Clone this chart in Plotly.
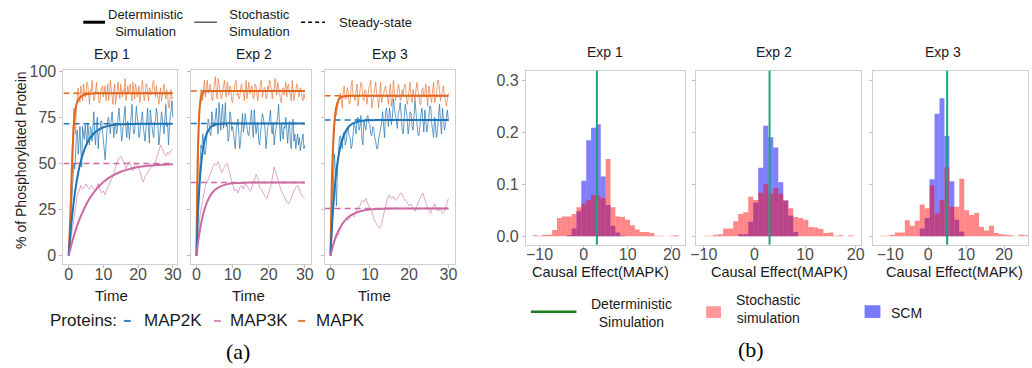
import plotly.graph_objects as go
import numpy as np

W, H = 1032, 368

# ---------------- (a) time courses ----------------
proteins = ["MAP2K", "MAP3K", "MAPK"]
exps = ["Exp 1", "Exp 2", "Exp 3"]

t_det = [0, 0.5, 1, 1.5, 2, 2.5, 3, 4, 5, 6, 8, 10, 12, 15, 18, 20, 25, 30]
det = {
    ("Exp 1", "MAPK"):  [0, 23, 50, 71, 80, 83.5, 85.2, 86.8, 87.5, 87.8, 88, 88, 88, 88, 88, 88, 88, 88],
    ("Exp 1", "MAP2K"): [0, 11.8, 21.6, 29.8, 36.7, 42.4, 47.2, 54.6, 59.7, 63.3, 67.5, 69.6, 70.6, 71.2, 71.4, 71.5, 71.5, 71.5],
    ("Exp 1", "MAP3K"): [0, 3.8, 7.4, 10.7, 13.7, 16.5, 19.1, 23.6, 27.5, 30.9, 36.1, 39.9, 42.7, 45.5, 47.2, 48.0, 49.1, 49.6],
    ("Exp 2", "MAPK"):  [0, 63.7, 82, 87.2, 88.7, 89.1, 89.2, 89.3, 89.3, 89.3, 89.3, 89.3, 89.3, 89.3, 89.3, 89.3, 89.3, 89.3],
    ("Exp 2", "MAP2K"): [0, 26, 42.5, 53.1, 59.9, 64.2, 66.9, 69.8, 70.9, 71.4, 71.7, 71.7, 71.7, 71.7, 71.7, 71.7, 71.7, 71.7],
    ("Exp 2", "MAP3K"): [0, 8.0, 14.3, 19.4, 23.5, 26.7, 29.3, 33.1, 35.4, 36.9, 38.5, 39.2, 39.4, 39.6, 39.6, 39.6, 39.6, 39.6],
    ("Exp 3", "MAPK"):  [0, 51.4, 72.4, 80.9, 84.3, 85.7, 86.3, 86.6, 86.7, 86.7, 86.7, 86.7, 86.7, 86.7, 86.7, 86.7, 86.7, 86.7],
    ("Exp 3", "MAP2K"): [0, 20.4, 35.1, 45.8, 53.5, 59.0, 63.0, 68.0, 70.7, 72.0, 73.1, 73.4, 73.5, 73.5, 73.5, 73.5, 73.5, 73.5],
    ("Exp 3", "MAP3K"): [0, 4.3, 7.9, 10.9, 13.4, 15.4, 17.2, 19.8, 21.6, 22.8, 24.3, 25.0, 25.3, 25.5, 25.6, 25.6, 25.6, 25.6],
}
steady = {
    "Exp 1": {"MAPK": 88.0, "MAP2K": 71.5, "MAP3K": 50.0},
    "Exp 2": {"MAPK": 89.3, "MAP2K": 71.7, "MAP3K": 39.6},
    "Exp 3": {"MAPK": 86.7, "MAP2K": 73.5, "MAP3K": 25.6},
}

# fast-fluctuating species sampled every 0.25 time units
t_fast = [i * 0.25 for i in range(121)]
# slowly fluctuating MAP3K sampled every 0.5 time units
t_slow = [i * 0.5 for i in range(61)]

sto = {
    ("Exp 1", "MAPK"): [0, 10, 25, 45, 60, 72, 80, 70, 66, 82,
                        88, 91, 85, 83, 92, 87, 84, 93, 90, 86,
                        87, 94, 93, 85, 82, 90, 89, 95, 91, 84,
                        85, 92, 94, 88, 88, 83, 83, 90, 90, 92,
                        86, 89, 92, 84, 89, 93, 84, 87, 95, 90,
                        87, 82, 90, 93, 82, 87, 91, 94, 88, 85,
                        93, 89, 86, 90, 89, 96, 84, 87, 92, 88,
                        90, 93, 87, 84, 94, 89, 85, 93, 91, 86,
                        88, 92, 83, 87, 92, 95, 89, 84, 86, 93,
                        93, 86, 84, 91, 90, 87, 88, 94, 95, 89,
                        86, 92, 89, 85, 82, 88, 91, 84, 87, 92,
                        93, 88, 85, 90, 88, 81, 80, 87, 90, 85, 86],
    ("Exp 1", "MAP2K"): [0, 6, 15, 25, 35, 44, 50, 47, 58, 66,
                         68, 55, 62, 70, 57, 48, 70, 65, 63, 71,
                         66, 60, 72, 64, 60, 70, 68, 62, 74, 78,
                         65, 60, 71, 75, 58, 66, 67, 73, 73, 68,
                         62, 55, 52, 60, 69, 74, 75, 70, 66, 73,
                         78, 72, 64, 70, 72, 66, 68, 76, 80, 73,
                         70, 62, 65, 72, 76, 81, 69, 64, 73, 70,
                         63, 68, 77, 82, 71, 66, 67, 72, 81, 75,
                         72, 64, 66, 71, 74, 78, 70, 63, 62, 68,
                         75, 80, 68, 61, 79, 74, 71, 66, 64, 72,
                         73, 80, 77, 70, 60, 65, 70, 78, 74, 68,
                         66, 75, 82, 70, 72, 60, 69, 76, 78, 84, 75],
    ("Exp 1", "MAP3K"): [0, 8, 14, 20, 27, 33, 35, 38, 36, 37,
                         39, 37, 36, 38, 37, 35, 37, 39, 36, 34,
                         35, 33, 36, 38, 40, 42, 44, 48, 51, 53,
                         54, 52, 50, 47, 49, 51, 48, 46, 49, 50,
                         48, 46, 42, 40, 43, 44, 46, 47, 49, 48,
                         51, 54, 57, 60, 58, 55, 54, 56, 55, 57, 58],
    ("Exp 2", "MAPK"): [0, 30, 60, 78, 85, 90, 88, 84, 92, 95,
                        86, 90, 95, 88, 89, 93, 91, 85, 84, 90,
                        93, 97, 88, 85, 96, 91, 90, 86, 85, 89,
                        92, 95, 89, 86, 94, 90, 87, 92, 91, 84,
                        83, 88, 90, 94, 95, 87, 88, 85, 86, 91,
                        93, 89, 89, 84, 91, 95, 85, 90, 94, 88,
                        88, 92, 90, 85, 87, 93, 92, 87, 84, 90,
                        89, 94, 95, 86, 88, 91, 91, 85, 86, 92,
                        90, 95, 93, 87, 85, 90, 89, 96, 92, 87,
                        94, 89, 88, 85, 83, 90, 91, 87, 90, 94,
                        86, 92, 93, 88, 88, 84, 95, 90, 84, 88,
                        89, 93, 92, 86, 87, 91, 90, 85, 84, 88, 85],
    ("Exp 2", "MAP2K"): [0, 15, 30, 42, 50, 60, 58, 66, 62, 55,
                         55, 64, 68, 74, 72, 66, 65, 78, 75, 70,
                         70, 77, 80, 72, 66, 83, 73, 68, 78, 82,
                         69, 73, 83, 70, 71, 62, 64, 78, 76, 68,
                         70, 66, 62, 58, 68, 72, 74, 65, 58, 63,
                         72, 77, 67, 70, 77, 73, 71, 66, 65, 70,
                         73, 79, 69, 64, 79, 72, 66, 70, 72, 62,
                         60, 66, 70, 77, 75, 70, 68, 58, 64, 70,
                         71, 76, 79, 68, 66, 72, 60, 65, 68, 73,
                         76, 82, 67, 62, 72, 66, 63, 70, 69, 75,
                         65, 61, 69, 73, 61, 58, 71, 74, 62, 66,
                         58, 63, 66, 60, 64, 57, 60, 65, 66, 58, 60],
    ("Exp 2", "MAP3K"): [0, 12, 22, 28, 34, 38, 40, 43, 46, 48,
                         50, 49, 51, 48, 45, 47, 49, 50, 46, 42,
                         38, 35, 36, 34, 37, 38, 36, 39, 38, 36,
                         35, 38, 41, 44, 42, 37, 36, 34, 32, 31,
                         34, 37, 42, 48, 45, 41, 38, 35, 33, 31,
                         29, 28, 30, 33, 35, 37, 38, 36, 33, 32, 31],
    ("Exp 3", "MAPK"): [0, 15, 40, 60, 70, 78, 76, 80, 82, 86,
                        88, 83, 80, 90, 92, 85, 85, 91, 89, 82,
                        83, 92, 95, 86, 87, 84, 90, 93, 81, 86,
                        88, 94, 93, 85, 84, 90, 89, 82, 86, 91,
                        92, 95, 80, 84, 88, 92, 94, 87, 85, 80,
                        90, 94, 83, 86, 87, 90, 92, 88, 86, 82,
                        89, 93, 81, 85, 95, 90, 84, 86, 88, 93,
                        91, 84, 85, 90, 87, 92, 93, 88, 82, 85,
                        89, 94, 86, 83, 90, 87, 84, 90, 94, 89,
                        87, 82, 82, 90, 91, 86, 88, 93, 85, 81,
                        92, 88, 86, 83, 90, 94, 83, 86, 88, 95,
                        95, 89, 84, 87, 89, 92, 87, 84, 81, 85, 88],
    ("Exp 3", "MAP2K"): [0, 8, 20, 40, 55, 45, 27, 45, 60, 64,
                         65, 60, 58, 66, 67, 60, 62, 68, 70, 65,
                         64, 58, 60, 66, 72, 70, 66, 74, 75, 68,
                         70, 76, 63, 60, 73, 70, 68, 75, 76, 72,
                         71, 66, 65, 70, 69, 64, 62, 58, 58, 63,
                         66, 70, 72, 78, 70, 64, 78, 80, 74, 70,
                         80, 76, 71, 75, 85, 80, 76, 70, 69, 77,
                         79, 83, 73, 68, 66, 75, 82, 79, 75, 66,
                         70, 78, 77, 70, 68, 76, 84, 78, 72, 66,
                         65, 73, 76, 80, 71, 67, 79, 73, 67, 71,
                         74, 81, 81, 72, 69, 64, 75, 70, 64, 69,
                         78, 82, 72, 66, 80, 75, 68, 71, 76, 79, 73],
    ("Exp 3", "MAP3K"): [0, 5, 9, 12, 11, 15, 17, 18, 20, 19,
                         21, 22, 21, 24, 26, 27, 30, 29, 31, 28,
                         26, 24, 20, 18, 16, 15, 17, 22, 27, 31,
                         33, 31, 32, 30, 31, 33, 34, 32, 30, 29,
                         27, 28, 26, 24, 27, 30, 32, 34, 30, 27,
                         25, 23, 26, 28, 25, 24, 26, 23, 24, 28, 31],
}
sto_time = {"MAPK": t_fast, "MAP2K": t_fast, "MAP3K": t_slow}

# ---------------- (b) histograms ----------------
bin_start = [-11.56, -10.12, -12.67]
bin_width = [1.103, 0.989, 1.304]
stoch_hist = [
    [0.002, 0.001, 0.003, 0.003, 0.012, 0.035, 0.038, 0.038, 0.043, 0.056,
     0.063, 0.070, 0.080, 0.078, 0.073, 0.149, 0.056, 0.038, 0.037, 0.032,
     0.021, 0.013, 0.008, 0.008, 0.006, 0.001, 0.001, 0.0, 0.001, 0.002],
    [0.001, 0.001, 0.003, 0.004, 0.015, 0.015, 0.029, 0.043, 0.046, 0.076,
     0.070, 0.084, 0.100, 0.082, 0.093, 0.082, 0.069, 0.054, 0.037, 0.035,
     0.032, 0.018, 0.017, 0.014, 0.006, 0.007, 0.001, 0.002, 0.0, 0.002],
    [0.001, 0.001, 0.003, 0.007, 0.007, 0.031, 0.020, 0.030, 0.061, 0.054,
     0.098, 0.044, 0.070, 0.133, 0.057, 0.057, 0.111, 0.050, 0.041, 0.045,
     0.018, 0.011, 0.020, 0.006, 0.004, 0.003, 0.002, 0.0, 0.003, 0.002],
]
scm_hist = [
    [0, 0, 0, 0, 0, 0, 0, 0.002, 0.015, 0.048,
     0.107, 0.185, 0.209, 0.216, 0.115, 0.060, 0.020, 0.007, 0.001, 0,
     0, 0, 0, 0, 0, 0, 0, 0, 0, 0],
    [0, 0, 0, 0, 0, 0, 0, 0.004, 0.004, 0.028,
     0.065, 0.132, 0.213, 0.191, 0.171, 0.104, 0.069, 0.040, 0.008, 0,
     0, 0, 0, 0, 0, 0, 0, 0, 0, 0],
    [0, 0, 0, 0, 0, 0, 0, 0, 0.015, 0.035,
     0.110, 0.236, 0.266, 0.193, 0.106, 0.032, 0.009, 0, 0, 0,
     0, 0, 0, 0, 0, 0, 0, 0, 0, 0],
]
det_effect = [3.0, 3.0, 5.0]

# ---------------- styling ----------------
col_det = {"MAP2K": "#1F74B1", "MAP3K": "#CC6AA1", "MAPK": "#E0661F"}
col_sto = {"MAP2K": "rgba(31,116,177,0.7)", "MAP3K": "rgba(204,106,161,0.6)", "MAPK": "rgba(224,102,31,0.6)"}
FONT = "Liberation Sans, Arial, sans-serif"
SERIF = "Liberation Serif, Times New Roman, serif"

def fx(px):
    return px / W

def fy(py):
    return 1 - py / H

a_px = [(58, 173), (186.7, 308.3), (321.7, 453.3)]
a_py = (64.3, 262.3)
a_xr = [[-1.51, 31.3], [-1.54, 31.8], [-1.51, 31.66]]
a_yr = [-4.7, 100.6]

b_px = [(525, 685.7), (696.7, 863.3), (875.7, 1032)]
b_py = (65, 242.3)
b_xr = [[-13.1, 23.0], [-11.54, 21.04], [-14.48, 26.3]]
b_yr = [-0.0163, 0.319]

fig = go.Figure()

def common_axis(**kw):
    d = dict(showline=True, mirror=True, linecolor="#CFCFCF", linewidth=1,
             ticks="outside", ticklen=3, tickcolor="#C0C0C0", showgrid=False,
             zeroline=False, tickfont=dict(size=16, color="#4D4D4D", family=FONT))
    d.update(kw)
    return d

layout_axes = {}
for i in range(3):
    n = i + 1
    xa = "xaxis" if n == 1 else f"xaxis{n}"
    ya = "yaxis" if n == 1 else f"yaxis{n}"
    layout_axes[xa] = common_axis(domain=[fx(a_px[i][0]), fx(a_px[i][1])], range=a_xr[i],
                                  anchor=f"y{'' if n == 1 else n}", tickvals=[0, 10, 20, 30],
                                  ticklabelstandoff=-8)
    layout_axes[ya] = common_axis(domain=[fy(a_py[1]), fy(a_py[0])], range=a_yr,
                                  anchor=f"x{'' if n == 1 else n}", tickvals=[0, 25, 50, 75, 100],
                                  showticklabels=(i == 0))
for i in range(3):
    n = i + 4
    layout_axes[f"xaxis{n}"] = common_axis(domain=[fx(b_px[i][0]), fx(b_px[i][1])], range=b_xr[i],
                                           anchor=f"y{n}", tickvals=[-10, 0, 10, 20],
                                           ticklabelstandoff=-8)
    layout_axes[f"yaxis{n}"] = common_axis(domain=[fy(b_py[1]), fy(b_py[0])], range=b_yr,
                                           anchor=f"x{n}", tickvals=[0, 0.1, 0.2, 0.3],
                                           tickformat=".1f", showticklabels=(i == 0))

# (a) traces
for i, e in enumerate(exps):
    xr = "x" if i == 0 else f"x{i+1}"
    yr = "y" if i == 0 else f"y{i+1}"
    for p in ["MAPK", "MAP2K", "MAP3K"]:
        ss = steady[e][p]
        fig.add_trace(go.Scatter(x=[a_xr[i][0], t_det[-1]], y=[ss, ss], mode="lines",
                                 line=dict(color=col_det[p], width=1.5, dash="6px,4px"),
                                 xaxis=xr, yaxis=yr, showlegend=False, hoverinfo="skip"))
    for p in ["MAPK", "MAP2K", "MAP3K"]:
        fig.add_trace(go.Scatter(x=sto_time[p], y=sto[(e, p)], mode="lines",
                                 line=dict(color=col_sto[p], width=1),
                                 xaxis=xr, yaxis=yr, showlegend=False))
    for p in ["MAPK", "MAP2K", "MAP3K"]:
        fig.add_trace(go.Scatter(x=t_det, y=det[(e, p)], mode="lines", line_shape="spline",
                                 line=dict(color=col_det[p], width=2),
                                 xaxis=xr, yaxis=yr, showlegend=False))

# (b) traces
shapes = []
for i in range(3):
    n = i + 4
    centers = bin_start[i] + bin_width[i] * (np.arange(len(scm_hist[i])) + 0.5)
    fig.add_trace(go.Bar(x=centers, y=scm_hist[i], width=bin_width[i],
                         marker=dict(color="rgba(0,0,255,0.5)", line=dict(width=0)),
                         xaxis=f"x{n}", yaxis=f"y{n}", showlegend=False))
    fig.add_trace(go.Bar(x=centers, y=stoch_hist[i], width=bin_width[i],
                         marker=dict(color="rgba(255,0,0,0.47)", line=dict(width=0)),
                         xaxis=f"x{n}", yaxis=f"y{n}", showlegend=False))
    shapes.append(dict(type="line", xref=f"x{n}", yref=f"y{n} domain",
                       x0=det_effect[i], x1=det_effect[i], y0=0, y1=1,
                       line=dict(color="#1BA37A", width=2)))

# legend keys
def hline(x0, x1, y, color, width, dash="solid"):
    return dict(type="line", xref="paper", yref="paper", x0=fx(x0), x1=fx(x1), y0=fy(y), y1=fy(y),
                line=dict(color=color, width=width, dash=dash))

def rect(x0, x1, y0, y1, color):
    return dict(type="rect", xref="paper", yref="paper", x0=fx(x0), x1=fx(x1), y0=fy(y1), y1=fy(y0),
                fillcolor=color, line=dict(width=0))

shapes += [
    hline(78, 100, 15.5, "black", 3),
    hline(190, 213, 15.5, "#333333", 1.2),
    hline(298, 322, 15.5, "black", 1.5, "4px,3px"),
    hline(119, 126, 320, "#2E86C1", 2),
    hline(210, 217, 320, "#D98CB9", 2),
    hline(295, 302, 320, "#E8743B", 2),
    hline(530, 576, 310.7, "#1E7B1E", 2.5),
    rect(707, 722, 305, 317, "rgba(255,0,0,0.4)"),
    rect(867, 883, 304, 317, "rgba(0,0,255,0.52)"),
]

def ann(text, x, y, size, xanchor="center", family=FONT, color="#1A1A1A", angle=0):
    return dict(text=text, x=fx(x), y=fy(y), xref="paper", yref="paper", showarrow=False,
                xanchor=xanchor, yanchor="middle", textangle=angle,
                font=dict(size=size, family=family, color=color))

annotations = [
    ann("Deterministic<br>Simulation", 141.7, 16.5, 13),
    ann("Stochastic<br>Simulation", 256, 16.5, 13),
    ann("Steady-state", 373, 16, 13),
    ann("Exp 1", 106.7, 48, 14),
    ann("Exp 2", 250, 48, 14),
    ann("Exp 3", 388, 48, 14),
    ann("% of Phosphorylated Protein", 15, 156, 14, angle=-90),
    ann("Time", 107, 294, 15),
    ann("Time", 244.5, 294, 15),
    ann("Time", 372.5, 294, 15),
    ann("Proteins:", 42, 320, 17, xanchor="left"),
    ann("MAP2K", 137, 320, 17, xanchor="left"),
    ann("MAP3K", 224, 320, 17, xanchor="left"),
    ann("MAPK", 311, 320, 17, xanchor="left"),
    ann("(a)", 234.5, 351, 22, family=SERIF, color="black"),
    ann("Exp 1", 605, 46, 14),
    ann("Exp 2", 776, 46, 14),
    ann("Exp 3", 946, 46, 14),
    ann("Causal Effect(MAPK)", 600.5, 270, 14.5),
    ann("Causal Effect(MAPK)", 781, 270, 14.5),
    ann("Causal Effect(MAPK)", 958, 270, 14.5),
    ann("Deterministic<br>Simulation", 631.5, 311.7, 14),
    ann("Stochastic<br>simulation", 770, 308, 14),
    ann("SCM", 909, 311.7, 14),
    ann("(b)", 752.5, 349, 22, family=SERIF, color="black"),
]

fig.update_layout(
    width=W, height=H, margin=dict(l=0, r=0, t=0, b=0),
    paper_bgcolor="white", plot_bgcolor="white",
    barmode="overlay", showlegend=False,
    font=dict(family=FONT),
    shapes=shapes, annotations=annotations,
    **layout_axes,
)

fig.write_html("out.html", config={"displayModeBar": False},
               post_script="document.body.style.margin='0px';document.body.style.padding='0px';")
